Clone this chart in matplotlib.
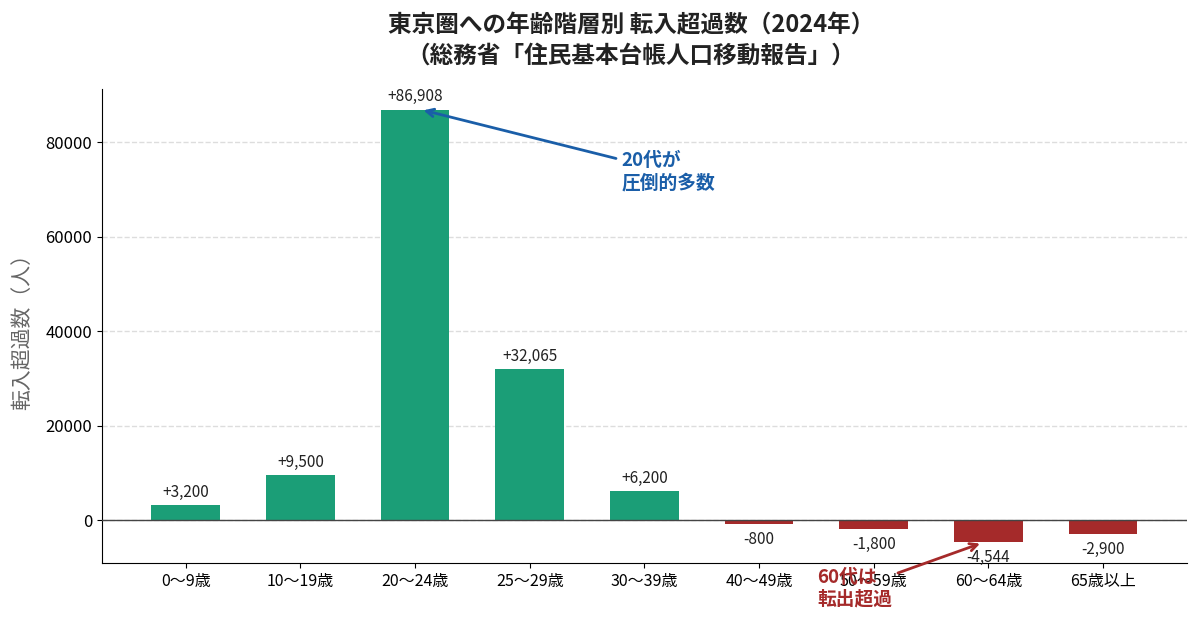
import matplotlib
matplotlib.use("Agg")
import matplotlib.pyplot as plt

plt.rcParams['font.family'] = ['Noto Sans CJK JP', 'DejaVu Sans']

categories = ["0〜9歳", "10〜19歳", "20〜24歳", "25〜29歳", "30〜39歳",
              "40〜49歳", "50〜59歳", "60〜64歳", "65歳以上"]
values = [3200, 9500, 86908, 32065, 6200, -800, -1800, -4544, -2900]

title = "東京圏への年齢階層別 転入超過数（2024年）\n（総務省「住民基本台帳人口移動報告」）"
ylabel = "転入超過数（人）"
note_up = "20代が\n圧倒的多数"
note_down = "60代は\n転出超過"

GREEN = "#1b9e77"
RED = "#a52a2a"
BLUE = "#1a5ea8"

fig = plt.figure(figsize=(12, 6.23), dpi=100)
ax = fig.add_axes([0.085, 0.096, 0.904, 0.761])

x = list(range(len(categories)))
colors = [GREEN if v >= 0 else RED for v in values]
bars = ax.bar(x, values, width=0.6, color=colors, zorder=3)

ax.axhline(0, color="#444444", linewidth=1.0, zorder=4)
ax.set_ylim(min(values) * 2, max(values) * 1.05)
ax.set_xticks(x)
ax.set_xticklabels(categories, fontsize=11.5)
ax.tick_params(axis='y', labelsize=12)
ax.set_yticks([0, 20000, 40000, 60000, 80000])
ax.set_ylabel(ylabel, fontsize=15, color="#666666", labelpad=9)
ax.grid(axis='y', linestyle='--', color='#dddddd', linewidth=1.0, zorder=0)
ax.spines['top'].set_visible(False)
ax.spines['right'].set_visible(False)

for xi, v in zip(x, values):
    label = f"+{v:,}" if v >= 0 else f"{v:,}"
    if v >= 0:
        ax.annotate(label, (xi, v), xytext=(0, 3), textcoords='offset points',
                    ha='center', va='bottom', fontsize=11, color="#222222")
    else:
        ax.annotate(label, (xi, v), xytext=(0, -5), textcoords='offset points',
                    ha='center', va='top', fontsize=11, color="#222222")

ax.annotate(note_up, xy=(2.05, values[2]), xytext=(3.8, 73800),
            ha='left', va='center', fontsize=13.5, fontweight='bold', color=BLUE,
            arrowprops=dict(arrowstyle='->', color=BLUE, lw=2))
ax.annotate(note_down, xy=(6.95, values[7] - 200), xytext=(5.51, -14400),
            ha='left', va='center', fontsize=13.5, fontweight='bold', color=RED,
            annotation_clip=False,
            arrowprops=dict(arrowstyle='->', color=RED, lw=2))

fig.suptitle(title, x=0.526, y=0.979, fontsize=17, fontweight='bold',
             color="#222222", va='top', linespacing=1.35)

fig.savefig("out.png", dpi=100)
